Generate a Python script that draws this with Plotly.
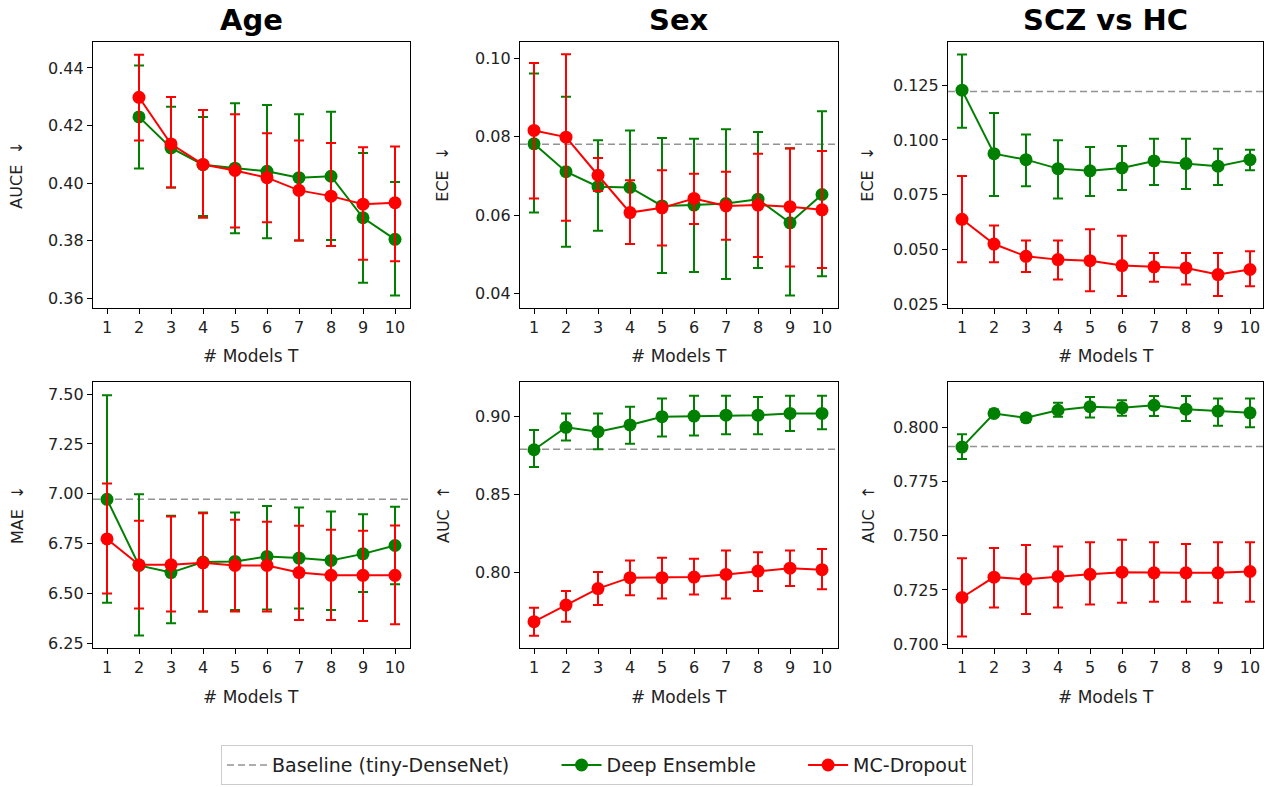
import plotly.graph_objects as go

# ---------------- data ----------------
T = [1, 2, 3, 4, 5, 6, 7, 8, 9, 10]

# Age – AUCE
age_auce_de    = [None, 0.4230, 0.4122, 0.4064, 0.4052, 0.4041, 0.4019, 0.4024, 0.3880, 0.3805]
age_auce_de_hi = [None, 0.4408, 0.4265, 0.4230, 0.4277, 0.4271, 0.4239, 0.4248, 0.4105, 0.4004]
age_auce_de_lo = [None, 0.4051, 0.3985, 0.3886, 0.3826, 0.3809, 0.3801, 0.3803, 0.3654, 0.3610]
age_auce_mc    = [None, 0.4298, 0.4136, 0.4065, 0.4044, 0.4019, 0.3975, 0.3955, 0.3927, 0.3932]
age_auce_mc_hi = [None, 0.4446, 0.4299, 0.4254, 0.4239, 0.4173, 0.4148, 0.4139, 0.4125, 0.4127]
age_auce_mc_lo = [None, 0.4148, 0.3985, 0.3880, 0.3846, 0.3864, 0.3801, 0.3782, 0.3734, 0.3729]
age_auce_base  = None

# Sex – ECE
sex_ece_de    = [0.0782, 0.0711, 0.0673, 0.0671, 0.0624, 0.0626, 0.0630, 0.0641, 0.0581, 0.0653]
sex_ece_de_hi = [0.0961, 0.0902, 0.0791, 0.0816, 0.0797, 0.0795, 0.0819, 0.0812, 0.0770, 0.0865]
sex_ece_de_lo = [0.0607, 0.0520, 0.0561, 0.0527, 0.0453, 0.0456, 0.0438, 0.0466, 0.0396, 0.0445]
sex_ece_mc    = [0.0816, 0.0799, 0.0702, 0.0607, 0.0619, 0.0643, 0.0624, 0.0626, 0.0622, 0.0614]
sex_ece_mc_hi = [0.0988, 0.1010, 0.0746, 0.0689, 0.0715, 0.0706, 0.0711, 0.0757, 0.0771, 0.0764]
sex_ece_mc_lo = [0.0643, 0.0586, 0.0662, 0.0527, 0.0523, 0.0578, 0.0538, 0.0494, 0.0470, 0.0466]
sex_ece_base  = 0.0781

# SCZ vs HC – ECE
scz_ece_de    = [0.1227, 0.0937, 0.0910, 0.0869, 0.0859, 0.0872, 0.0904, 0.0892, 0.0880, 0.0910]
scz_ece_de_hi = [0.1390, 0.1123, 0.1025, 0.0998, 0.0968, 0.0972, 0.1005, 0.1005, 0.0960, 0.0955]
scz_ece_de_lo = [0.1055, 0.0744, 0.0789, 0.0733, 0.0744, 0.0771, 0.0794, 0.0776, 0.0794, 0.0862]
scz_ece_mc    = [0.0638, 0.0525, 0.0469, 0.0454, 0.0449, 0.0427, 0.0421, 0.0416, 0.0386, 0.0409]
scz_ece_mc_hi = [0.0835, 0.0610, 0.0541, 0.0541, 0.0593, 0.0563, 0.0484, 0.0484, 0.0484, 0.0492]
scz_ece_mc_lo = [0.0442, 0.0442, 0.0397, 0.0363, 0.0310, 0.0288, 0.0353, 0.0341, 0.0288, 0.0333]
scz_ece_base  = 0.1221

# Age – MAE
age_mae_de    = [6.972, 6.640, 6.604, 6.657, 6.660, 6.685, 6.677, 6.665, 6.698, 6.740]
age_mae_de_hi = [7.495, 6.997, 6.889, 6.906, 6.906, 6.939, 6.931, 6.911, 6.897, 6.935]
age_mae_de_lo = [6.453, 6.288, 6.350, 6.408, 6.416, 6.419, 6.424, 6.416, 6.507, 6.545]
age_mae_mc    = [6.773, 6.643, 6.643, 6.653, 6.640, 6.640, 6.604, 6.590, 6.590, 6.590]
age_mae_mc_hi = [7.052, 6.864, 6.886, 6.902, 6.869, 6.859, 6.839, 6.819, 6.814, 6.840]
age_mae_mc_lo = [6.499, 6.424, 6.408, 6.408, 6.408, 6.408, 6.366, 6.366, 6.361, 6.345]
age_mae_base  = 6.972

# Sex – AUC
sex_auc_de    = [0.8784, 0.8928, 0.8900, 0.8943, 0.8996, 0.9000, 0.9006, 0.9006, 0.9017, 0.9017]
sex_auc_de_hi = [0.8911, 0.9017, 0.9017, 0.9059, 0.9112, 0.9131, 0.9131, 0.9123, 0.9131, 0.9131]
sex_auc_de_lo = [0.8674, 0.8843, 0.8788, 0.8822, 0.8869, 0.8875, 0.8883, 0.8883, 0.8905, 0.8915]
sex_auc_mc    = [0.7682, 0.7788, 0.7894, 0.7964, 0.7964, 0.7968, 0.7985, 0.8006, 0.8025, 0.8015]
sex_auc_mc_hi = [0.7771, 0.7879, 0.8000, 0.8074, 0.8091, 0.8085, 0.8138, 0.8127, 0.8138, 0.8148]
sex_auc_mc_lo = [0.7591, 0.7682, 0.7788, 0.7852, 0.7831, 0.7856, 0.7831, 0.7879, 0.7911, 0.7890]
sex_auc_base  = 0.8788

# SCZ vs HC – AUC
scz_auc_de    = [0.7909, 0.8064, 0.8044, 0.8079, 0.8095, 0.8090, 0.8102, 0.8084, 0.8075, 0.8067]
scz_auc_de_hi = [0.7968, 0.8082, 0.8061, 0.8114, 0.8140, 0.8125, 0.8145, 0.8145, 0.8133, 0.8133]
scz_auc_de_lo = [0.7854, 0.8049, 0.8026, 0.8049, 0.8046, 0.8053, 0.8052, 0.8029, 0.8008, 0.8000]
scz_auc_mc    = [0.7215, 0.7309, 0.7299, 0.7312, 0.7322, 0.7332, 0.7329, 0.7329, 0.7329, 0.7335]
scz_auc_mc_hi = [0.7396, 0.7444, 0.7457, 0.7450, 0.7470, 0.7482, 0.7470, 0.7462, 0.7470, 0.7470]
scz_auc_mc_lo = [0.7035, 0.7169, 0.7139, 0.7169, 0.7183, 0.7191, 0.7195, 0.7195, 0.7191, 0.7195]
scz_auc_base  = 0.7912

titles = ["Age", "Sex", "SCZ vs HC"]
ylabels = ["AUCE  ↓", "ECE  ↓", "ECE  ↓", "MAE  ↓", "AUC  ↑", "AUC  ↑"]
xlabel = "# Models T"
legend_names = ["Baseline (tiny-DenseNet)", "Deep Ensemble", "MC-Dropout"]

# ---------------- layout settings ----------------
W, H = 1270, 787
GREEN = "#008000"
RED = "#ff0000"
BASE = "rgba(128,128,128,0.85)"
FONT = "DejaVu Sans"
TXT = "#222"
TICKSIZE = 16
STEP_PX = 32  # pixel distance between consecutive T ticks
LEFT_PAD_PX = 14  # pixel distance between left frame and T=1

panels = [
    dict(de=(age_auce_de, age_auce_de_lo, age_auce_de_hi), mc=(age_auce_mc, age_auce_mc_lo, age_auce_mc_hi),
         base=age_auce_base, rng=[0.3568, 0.4491], ticks=[0.36, 0.38, 0.40, 0.42, 0.44], fmt=".2f"),
    dict(de=(sex_ece_de, sex_ece_de_lo, sex_ece_de_hi), mc=(sex_ece_mc, sex_ece_mc_lo, sex_ece_mc_hi),
         base=sex_ece_base, rng=[0.0365, 0.1042], ticks=[0.04, 0.06, 0.08, 0.10], fmt=".2f"),
    dict(de=(scz_ece_de, scz_ece_de_lo, scz_ece_de_hi), mc=(scz_ece_mc, scz_ece_mc_lo, scz_ece_mc_hi),
         base=scz_ece_base, rng=[0.0235, 0.1448], ticks=[0.025, 0.050, 0.075, 0.100, 0.125], fmt=".3f"),
    dict(de=(age_mae_de, age_mae_de_lo, age_mae_de_hi), mc=(age_mae_mc, age_mae_mc_lo, age_mae_mc_hi),
         base=age_mae_base, rng=[6.225, 7.561], ticks=[6.25, 6.50, 6.75, 7.00, 7.25, 7.50], fmt=".2f"),
    dict(de=(sex_auc_de, sex_auc_de_lo, sex_auc_de_hi), mc=(sex_auc_mc, sex_auc_mc_lo, sex_auc_mc_hi),
         base=sex_auc_base, rng=[0.7513, 0.9218], ticks=[0.80, 0.85, 0.90], fmt=".2f"),
    dict(de=(scz_auc_de, scz_auc_de_lo, scz_auc_de_hi), mc=(scz_auc_mc, scz_auc_mc_lo, scz_auc_mc_hi),
         base=scz_auc_base, rng=[0.6982, 0.8209], ticks=[0.700, 0.725, 0.750, 0.775, 0.800], fmt=".3f"),
]

# pixel boxes of the panels (left, right) and (top, bottom)
xcols = [(93, 410), (520, 838), (948, 1263)]
yrows = [(42, 310), (385, 653)]


def errs(mean, lo, hi):
    plus = [None if m is None else h - m for m, h in zip(mean, hi)]
    minus = [None if m is None else m - l for m, l in zip(mean, lo)]
    return plus, minus


fig = go.Figure()
shapes = []
annotations = []

for i, p in enumerate(panels):
    r, c = divmod(i, 3)
    k = "" if i == 0 else str(i + 1)
    xa, ya = "x" + k, "y" + k
    x0, x1 = xcols[c]
    t0, t1 = yrows[r]
    xdom = [x0 / W, x1 / W]
    ydom = [(H - t1) / H, (H - t0) / H]
    xr0 = T[0] - LEFT_PAD_PX / STEP_PX
    xr1 = xr0 + (x1 - x0) / STEP_PX

    fig.update_layout(**{
        "xaxis" + k: dict(domain=xdom, range=[xr0, xr1], anchor=ya, tickmode="array", tickvals=T,
                          ticktext=[str(t) for t in T], ticks="outside", ticklen=5, tickwidth=1,
                          tickcolor="black", showline=True, mirror=True, linecolor="black", linewidth=1.2,
                          showgrid=False, zeroline=False,
                          tickfont=dict(family=FONT, size=TICKSIZE, color=TXT)),
        "yaxis" + k: dict(domain=ydom, range=p["rng"], anchor=xa, tickmode="array", tickvals=p["ticks"],
                          ticktext=[format(v, p["fmt"]) for v in p["ticks"]], ticks="outside", ticklen=5,
                          tickwidth=1, tickcolor="black", showline=True, mirror=True, linecolor="black",
                          linewidth=1.2, showgrid=False, zeroline=False,
                          tickfont=dict(family=FONT, size=TICKSIZE, color=TXT)),
    })

    if p["base"] is not None:
        shapes.append(dict(type="line", xref=xa + " domain", yref=ya, x0=0, x1=1, y0=p["base"], y1=p["base"],
                           line=dict(color=BASE, width=1.5, dash="7px,4px"), layer="below"))

    for name, key, col, rank in [(legend_names[1], "de", GREEN, 2), (legend_names[2], "mc", RED, 3)]:
        m, lo, hi = p[key]
        plus, minus = errs(m, lo, hi)
        fig.add_trace(go.Scatter(
            x=T, y=m, mode="lines+markers", name=name, legendgroup=name, showlegend=(i == 0),
            legendrank=rank,
            line=dict(color=col, width=2), marker=dict(color=col, size=13),
            error_y=dict(type="data", symmetric=False, array=plus, arrayminus=minus, color=col,
                         thickness=2, width=5),
            xaxis=xa, yaxis=ya, connectgaps=False,
        ))

    # y label
    ylab_x = {0: 17, 1: 443, 2: 868}[c]
    annotations.append(dict(text=ylabels[i], x=ylab_x / W, y=(H - (t0 + t1) / 2) / H, xref="paper",
                            yref="paper", showarrow=False, textangle=-90, xanchor="center", yanchor="middle",
                            font=dict(family=FONT, size=TICKSIZE, color=TXT)))
    # x label
    annotations.append(dict(text=xlabel, x=(x0 + x1) / 2 / W, y=(H - (t1 + 49)) / H, xref="paper",
                            yref="paper", showarrow=False, xanchor="center", yanchor="middle",
                            font=dict(family=FONT, size=TICKSIZE + 1, color=TXT)))
    if r == 0:
        annotations.append(dict(text="<b>" + titles[c] + "</b>", x=(x0 + x1) / 2 / W, y=(H - 20) / H,
                                xref="paper", yref="paper", showarrow=False, xanchor="center",
                                yanchor="middle", font=dict(family=FONT, size=29, color="black")))

# legend-only baseline entry (first in legend)
fig.add_trace(go.Scatter(x=[None], y=[None], mode="lines", name=legend_names[0],
                         line=dict(color=BASE, width=1.5, dash="7px,4px"), xaxis="x", yaxis="y",
                         legendrank=1))

fig.update_layout(
    width=W, height=H, margin=dict(l=0, r=0, t=0, b=0),
    paper_bgcolor="white", plot_bgcolor="white",
    shapes=shapes, annotations=annotations,
    showlegend=True,
    legend=dict(orientation="h", x=597 / W, y=(H - 771) / H, xanchor="center", yanchor="middle",
                bordercolor="#cccccc", borderwidth=1, bgcolor="white",
                font=dict(family=FONT, size=19, color=TXT), itemwidth=40, tracegroupgap=0,
                traceorder="normal"),
    font=dict(family=FONT),
)

# Names padded on the legend with trailing spaces to reproduce the spacing between entries
for tr in fig.data:
    if tr.showlegend is not False and tr.name == legend_names[0]:
        tr.name = legend_names[0] + "\u00a0" * 7
    elif tr.showlegend is not False and tr.name == legend_names[1]:
        tr.name = legend_names[1] + "\u00a0" * 7

fig.write_html("out.html", config={"displayModeBar": False},
               post_script="document.body.style.margin='0';")
